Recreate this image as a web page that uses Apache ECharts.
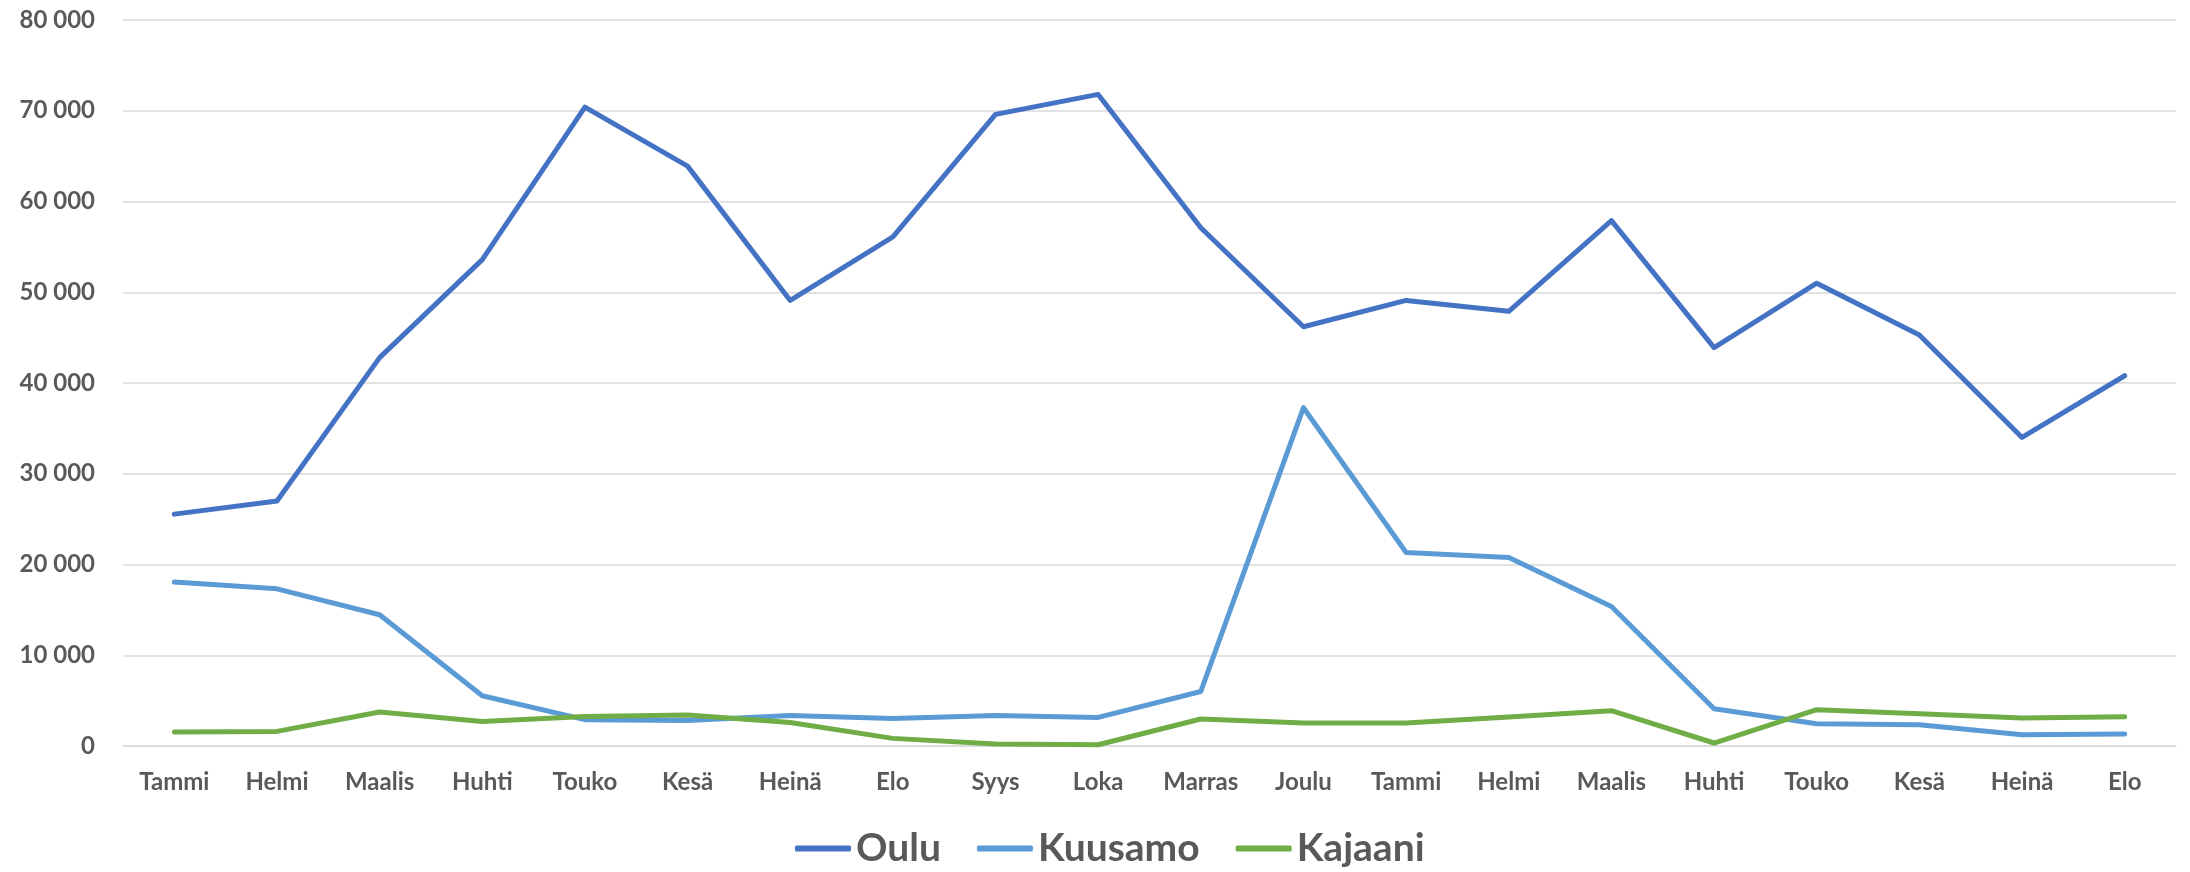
<!DOCTYPE html>
<html>
<head>
<meta charset="utf-8">
<script src="https://cdn.jsdelivr.net/npm/echarts@6/dist/echarts.min.js"></script>
<style>
  html, body { margin: 0; padding: 0; background: #fff; }
  #chart { width: 2190px; height: 872px; }
</style>
</head>
<body>
<div id="chart"></div>
<script>
  // kuukaudet (x-akseli)
  var months = ['Tammi', 'Helmi', 'Maalis', 'Huhti', 'Touko', 'Kesä', 'Heinä', 'Elo', 'Syys', 'Loka',
    'Marras', 'Joulu', 'Tammi', 'Helmi', 'Maalis', 'Huhti', 'Touko', 'Kesä', 'Heinä', 'Elo'];

  var seriesNames = ['Oulu', 'Kuusamo', 'Kajaani'];

  var oulu = [25550, 27000, 42800, 53600, 70400, 63900, 49100, 56100, 69600, 71800,
    57100, 46200, 49100, 47900, 57900, 43900, 51000, 45300, 34000, 40800];
  var kuusamo = [18060, 17320, 14460, 5540, 2900, 2820, 3370, 3040, 3370, 3150,
    6010, 37280, 21320, 20770, 15370, 4110, 2460, 2350, 1240, 1320];
  var kajaani = [1540, 1610, 3740, 2710, 3260, 3410, 2600, 840, 220, 140,
    2970, 2530, 2530, 3190, 3890, 330, 4000, 3560, 3080, 3230];

  var colors = ['#4472C4', '#5B9BD5', '#70AD47'];

  var myChart = echarts.init(document.getElementById('chart'));

  function makeLine(name, data, color) {
    return {
      name: name,
      type: 'line',
      data: data,
      symbol: 'none',
      lineStyle: { width: 5, color: color, cap: 'round', join: 'round' },
      itemStyle: { color: color }
    };
  }

  var option = {
    animation: false,
    textStyle: { fontFamily: 'Lato' },
    grid: { left: 123, right: 14, top: 20, bottom: 126 },
    legend: {
      data: seriesNames,
      top: 824,
      left: 790,
      itemWidth: 56,
      itemHeight: 6,
      itemGap: 36,
      icon: 'roundRect',
      textStyle: { color: '#595959', fontSize: 39, fontWeight: 'bold', fontFamily: 'Lato' }
    },
    xAxis: {
      type: 'category',
      data: months,
      boundaryGap: true,
      axisTick: { show: false },
      axisLine: { lineStyle: { color: '#D9D9D9', width: 1.5 } },
      axisLabel: { color: '#595959', fontSize: 24, fontWeight: 'bold', margin: 24, interval: 0 }
    },
    yAxis: {
      type: 'value',
      min: 0,
      max: 80000,
      interval: 10000,
      axisLine: { show: false },
      axisTick: { show: false },
      splitLine: { lineStyle: { color: '#D9D9D9', width: 1.5 } },
      axisLabel: {
        color: '#595959',
        fontSize: 24,
        fontWeight: 'bold',
        margin: 28,
        formatter: function (v) {
          return String(v).replace(/\B(?=(\d{3})+(?!\d))/g, ' ');
        }
      }
    },
    series: [
      makeLine(seriesNames[0], oulu, colors[0]),
      makeLine(seriesNames[1], kuusamo, colors[1]),
      makeLine(seriesNames[2], kajaani, colors[2])
    ]
  };

  myChart.setOption(option);
</script>
</body>
</html>
